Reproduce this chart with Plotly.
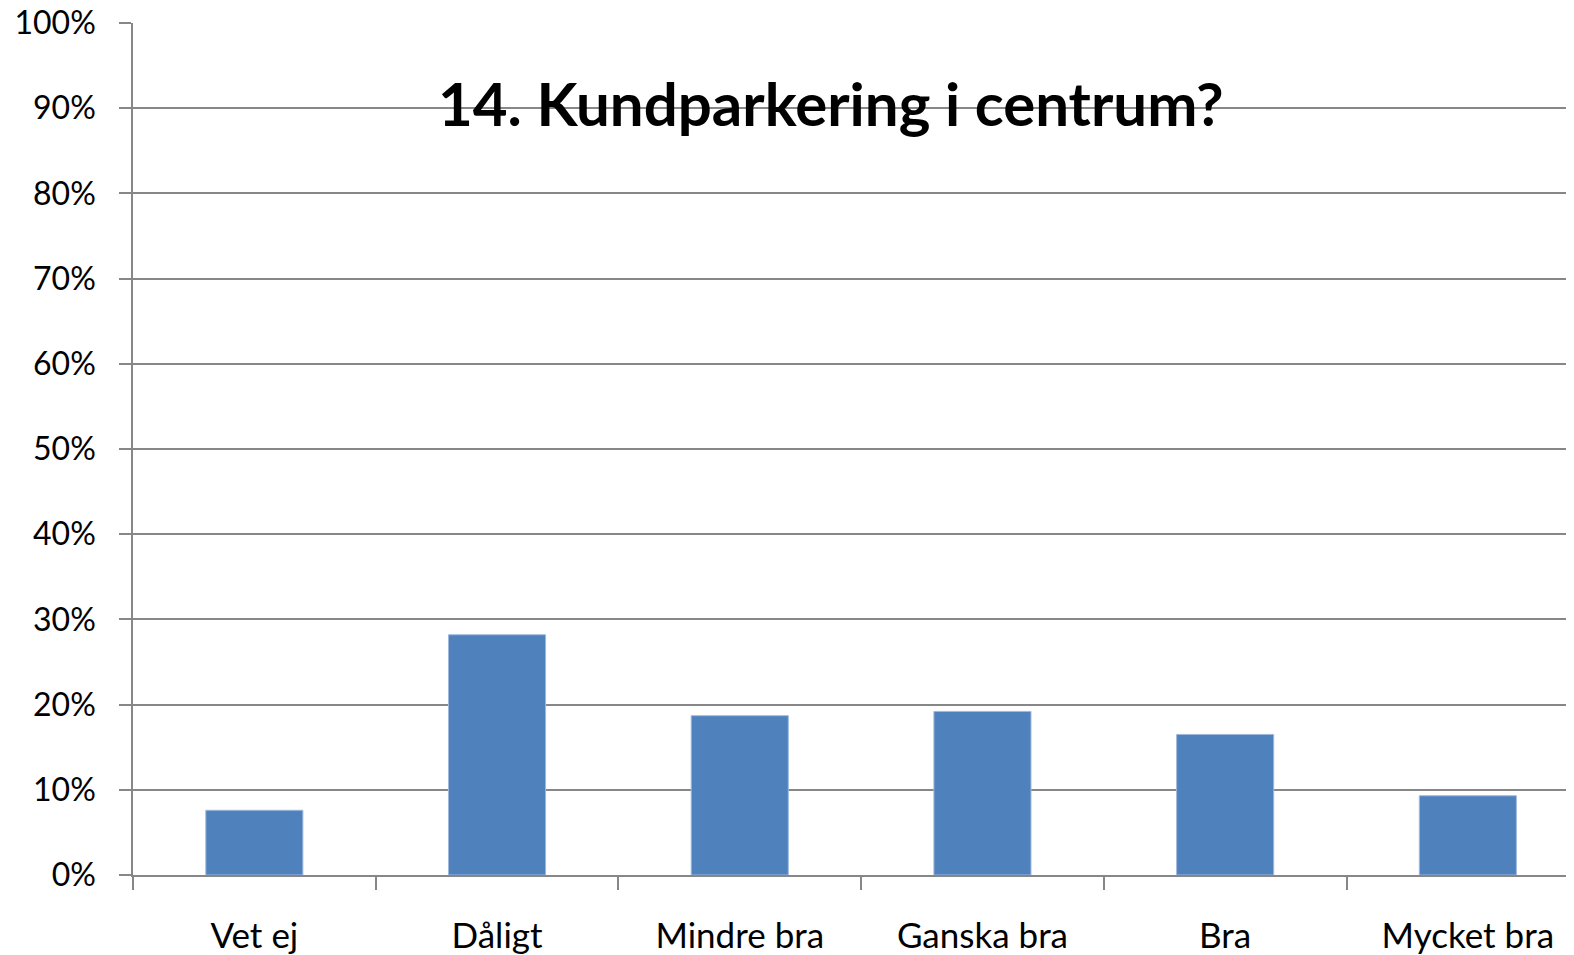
import plotly.graph_objects as go

# Data
categorias = ["Vet ej", "Dåligt", "Mindre bra", "Ganska bra", "Bra", "Mycket bra"]
andel = [0.076, 0.282, 0.187, 0.192, 0.165, 0.093]
y_ticks = [0, 0.1, 0.2, 0.3, 0.4, 0.5, 0.6, 0.7, 0.8, 0.9, 1.0]
y_labels = ["0%", "10%", "20%", "30%", "40%", "50%", "60%", "70%", "80%", "90%", "100%"]
titel = "14. Kundparkering i centrum?"

BLA = "#4F81BD"
GRA = "#878787"
FONT = "Lato, 'Open Sans', sans-serif"

# page has an 8px body margin, so the plot is placed with that in mind
W, H = 1574, 955
L, T, B = 125, 15, 88

fig = go.Figure()

fig.add_trace(go.Bar(
    x=categorias,
    y=andel,
    width=0.4,
    marker=dict(color=BLA, line=dict(color="#9fb9dc", width=1)),
    showlegend=False
))

fig.update_layout(
    width=W,
    height=H,
    margin=dict(l=L, r=0, t=T, b=B),
    plot_bgcolor="white",
    paper_bgcolor="white",
    font=dict(family=FONT, color="black", size=32),
    annotations=[dict(
        text="<b>" + titel + "</b>",
        x=(823 - L) / (W - L), y=(H - B - 95) / (H - T - B),
        xref="paper", yref="paper",
        showarrow=False, font=dict(size=60, family=FONT, color="black"),
        xanchor="center", yanchor="middle"
    )]
)

fig.update_xaxes(
    type="category",
    range=[-0.5, -0.5 + (W - L) / 242.7],
    tickson="boundaries",
    ticks="outside",
    ticklen=13,
    tickwidth=1.5,
    tickcolor=GRA,
    showline=True,
    linecolor=GRA,
    linewidth=1.5,
    showgrid=False,
    ticklabelstandoff=29,
    ticklabeloverflow="allow",
    tickfont=dict(size=35),
    automargin=False
)

fig.update_yaxes(
    range=[0, 1],
    tickvals=y_ticks,
    ticktext=y_labels,
    ticks="outside",
    ticklen=12,
    tickwidth=1.5,
    tickcolor=GRA,
    showline=True,
    linecolor=GRA,
    linewidth=1.5,
    showgrid=True,
    gridcolor=GRA,
    gridwidth=1.5,
    zeroline=False,
    ticklabelstandoff=17,
    ticklabeloverflow="allow",
    tickfont=dict(size=32),
    automargin=False
)

fig.write_html("out.html")
